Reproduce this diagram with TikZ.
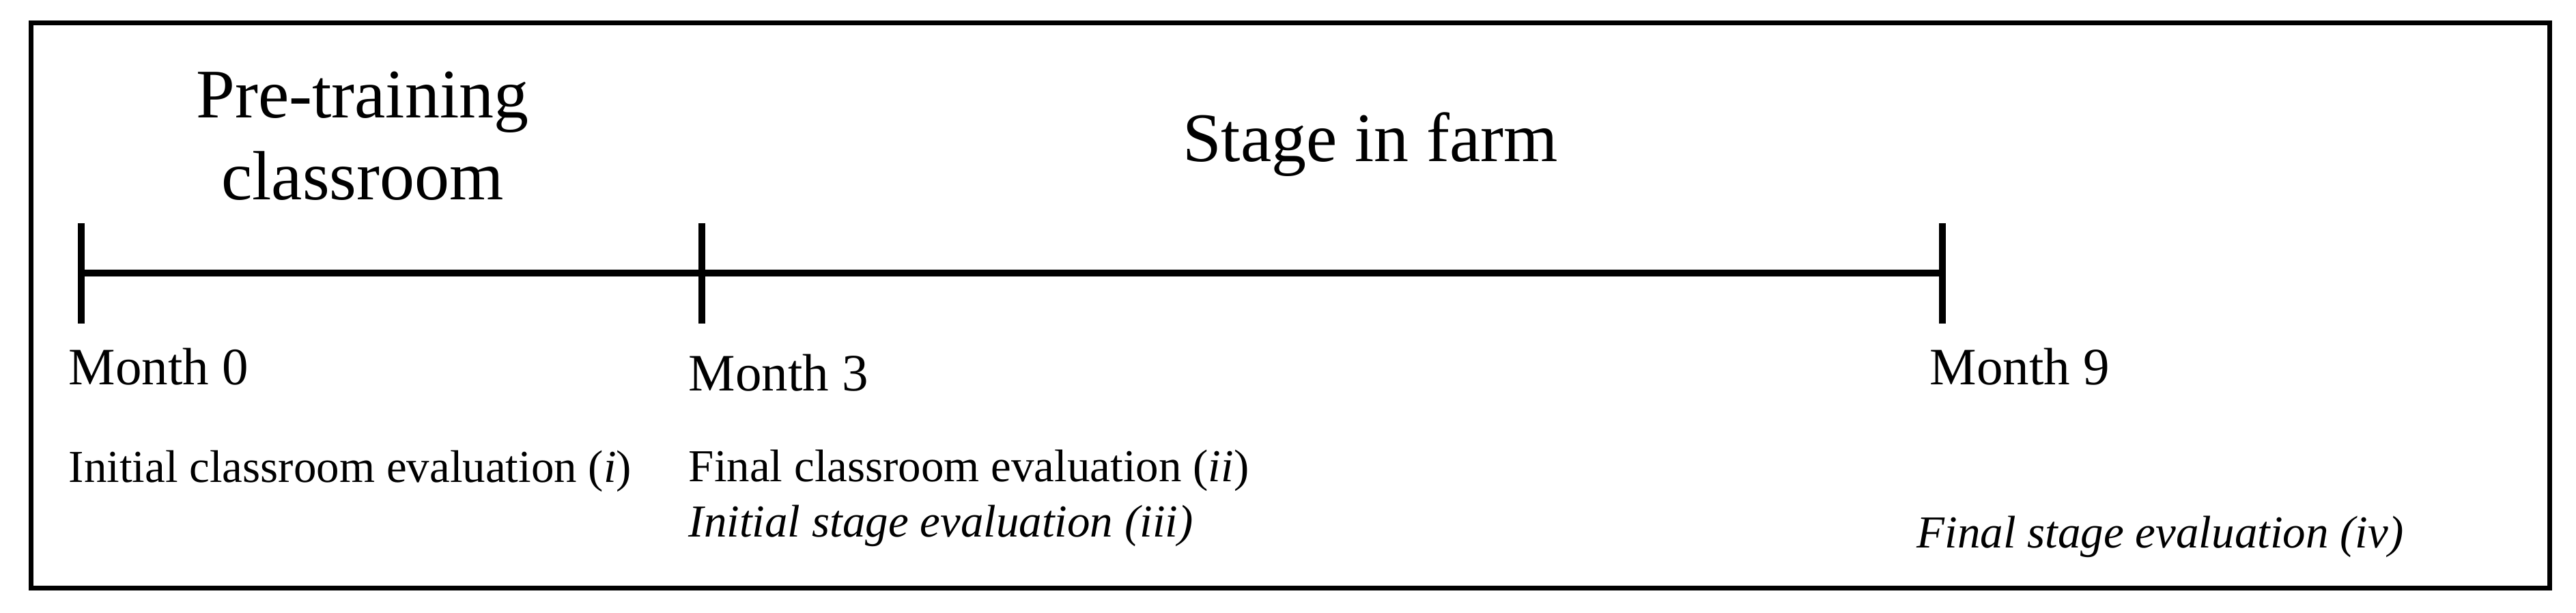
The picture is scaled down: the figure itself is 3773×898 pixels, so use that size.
\documentclass[tikz,border=0pt]{standalone}
\usepackage{fontspec}
\setmainfont{Liberation Serif}
\begin{document}
\begin{tikzpicture}[x=0.25pt,y=-0.25pt,
  frame/.style={line width=1.75pt},
  axis/.style={line width=2.7pt},
  tick/.style={line width=2.5pt},
  monthlbl/.style={anchor=base west,inner sep=0pt,font=\fontsize{19.25}{23}\selectfont},
  evallbl/.style={anchor=base west,inner sep=0pt,font=\fontsize{16.75}{20}\selectfont},
  title/.style={anchor=base,inner sep=0pt,font=\fontsize{25.5}{30}\selectfont}]
\useasboundingbox (0,0) rectangle (3773,898);
\draw[frame] (45,34) rectangle (3734,861);
% timeline points
\coordinate (m0) at (119,400);
\coordinate (m3) at (1028,400);
\coordinate (m9) at (2845,400);
\draw[axis] (m0) -- (m3) -- (m9);
\foreach \p in {m0,m3,m9}{
  \draw[tick] ([yshift=73*0.25pt]\p) -- ([yshift=-74*0.25pt]\p);
}
% titles
\node[title] (pre1) at (531,173) {Pre-training};
\node[title] (pre2) at (531,293) {classroom};
\node[title] (farm) at (2007,237) {Stage in farm};
% month labels
\node[monthlbl] (l0) at (100,563) {Month 0};
\node[monthlbl] (l3) at (1008,572) {Month 3};
\node[monthlbl] (l9) at (2826,563) {Month 9};
% evaluations
\node[evallbl] (e1) at (100,706) {Initial classroom evaluation (\textit{i})};
\node[evallbl] (e2) at (1008,705) {Final classroom evaluation (\textit{ii})};
\node[evallbl] (e3) at (1008,786) {\itshape Initial stage evaluation (iii)};
\node[evallbl] (e4) at (2807,802) {\itshape Final stage evaluation (iv)};
\end{tikzpicture}
\end{document}
